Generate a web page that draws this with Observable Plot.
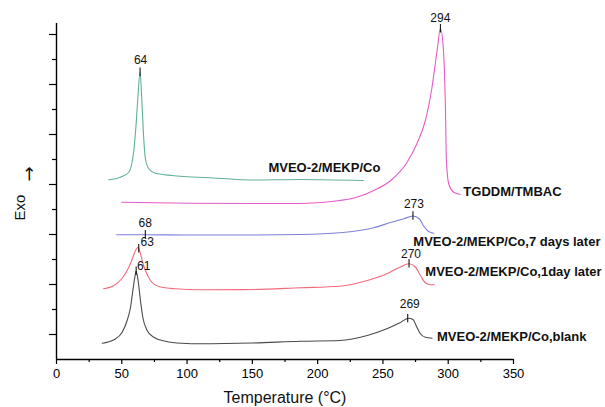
<!DOCTYPE html>
<html>
<head>
<meta charset="utf-8">
<script src="https://cdn.jsdelivr.net/npm/d3@7"></script>
<script src="https://cdn.jsdelivr.net/npm/@observablehq/plot@0.6"></script>
<style>
  html, body { margin: 0; padding: 0; background: #fff; }
  svg { display: block; }
</style>
</head>
<body>
<div id="chart"></div>
<script>
// ---- Data ----
const seriesNames = [
  "MVEO-2/MEKP/Co",
  "TGDDM/TMBAC",
  "MVEO-2/MEKP/Co,7 days later",
  "MVEO-2/MEKP/Co,1day later",
  "MVEO-2/MEKP/Co,blank"
];

const tGreen = [40, 49, 55.4, 59.2, 61, 62.5, 64, 65.6, 66.9, 68.1, 70.7, 75.8, 88.6, 97.5, 120, 149, 187, 235];
const vGreen = [7.19, 7.29, 7.49, 8.36, 9.43, 10.63, 11.49, 10.09, 8.76, 8.03, 7.63, 7.45, 7.36, 7.32, 7.26, 7.18, 7.2, 7.16];

const tMagenta = [50, 100, 150, 187, 217, 230, 243, 256, 268.5, 276, 282.5, 287.6, 291.5, 294, 296, 297.9, 298.6, 300.4, 304.2, 309.3];
const vMagenta = [6.29, 6.25, 6.24, 6.24, 6.36, 6.49, 6.76, 7.16, 7.89, 8.63, 9.56, 10.89, 12.36, 13.23, 12.63, 9.96, 7.96, 7.03, 6.69, 6.6];

const tBlue = [46, 68, 100, 150, 187, 217, 243, 256, 266, 273, 278, 281, 285, 289];
const vBlue = [4.99, 4.99, 4.98, 4.98, 5.0, 5.07, 5.27, 5.48, 5.63, 5.74, 5.62, 5.35, 5.12, 5.05];

const tRed = [36, 44, 50, 55.4, 58.5, 60.5, 62.5, 63.6, 65.6, 68.1, 72, 78.4, 91, 110, 150, 187, 217, 238, 253, 263, 270, 275, 278.7, 282.5, 286.4, 289.4];
const vRed = [2.83, 2.96, 3.23, 3.69, 4.09, 4.36, 4.49, 4.36, 3.96, 3.56, 3.16, 2.92, 2.83, 2.79, 2.8, 2.87, 2.93, 3.16, 3.43, 3.69, 3.83, 3.69, 3.36, 3.07, 2.99, 2.99];

const tBlack = [35, 44, 50.3, 54.1, 56.7, 58.5, 60, 61, 62.5, 64.3, 66.1, 69.4, 74.5, 83.5, 96, 110, 150, 187, 217, 238, 253, 263, 269.5, 273, 276, 278.7, 282.5, 287.6];
const vBlack = [0.65, 0.79, 1.09, 1.56, 2.09, 2.76, 3.29, 3.53, 3.16, 2.36, 1.69, 1.16, 0.89, 0.73, 0.65, 0.63, 0.66, 0.73, 0.76, 0.96, 1.23, 1.47, 1.65, 1.6, 1.29, 1.03, 0.89, 0.85];

// peak temperatures marked on each curve (series index, temperature)
const peakSeries = [0, 1, 2, 2, 3, 3, 4, 4];
const peakTemps  = [64, 294, 68, 273, 63, 270, 61, 269];

// curve label anchors (temperature, signal)
const labelTemps = [162.3, 311.6, 273.3, 282.5, 291.4];
const labelVals  = [7.68, 6.69, 4.69, 3.52, 0.89];

const xTicks = [0, 50, 100, 150, 200, 250, 300, 350];
const xMinorTicks = [25, 75, 125, 175, 225, 275, 325];
const yMajorTicks = [1, 3, 5, 7, 9, 11, 13];
const yMinorTicks = [2, 4, 6, 8, 10, 12];

// ---- Build tables ----
const colors = ["#5fb09a", "#e65bc6", "#7d80d8", "#f26b7c", "#4a4a4a"];
const curveT = [tGreen, tMagenta, tBlue, tRed, tBlack];
const curveV = [vGreen, vMagenta, vBlue, vRed, vBlack];

const rows = seriesNames.flatMap((name, s) =>
  curveT[s].map((t, i) => ({name, t, v: curveV[s][i]})));

function valueAt(s, t) {
  const T = curveT[s], V = curveV[s];
  for (let i = 0; i < T.length - 1; i++) {
    if (t >= T[i] && t <= T[i + 1]) {
      const f = (t - T[i]) / (T[i + 1] - T[i]);
      return V[i] + f * (V[i + 1] - V[i]);
    }
  }
  return V[V.length - 1];
}

const peaks = peakTemps.map((t, i) => ({
  t, v: valueAt(peakSeries[i], t), label: String(t)
}));

const labels = seriesNames.map((name, i) => ({name, t: labelTemps[i], v: labelVals[i]}));

// label offsets in pixels (style)
const peakOffsets = [
  [0.5, -12], [0, -10.5], [0, -11.5], [1, -11.5],
  [8.4, -7], [2, -10], [7.6, -5], [2, -14.5]
];

const font = "'Liberation Sans', Arial, Helvetica, sans-serif";

const chart = Plot.plot({
  width: 605,
  height: 407,
  marginLeft: 56,
  marginRight: 92,
  marginTop: 23,
  marginBottom: 48,
  style: {fontFamily: font, background: "#fff", color: "#000", overflow: "visible"},
  x: {domain: [0, 350]},
  y: {domain: [0, 13.44]},
  color: {domain: seriesNames, range: colors},
  marks: [
    Plot.axisX({ticks: xTicks, tickSize: 5, tickPadding: 4, fontSize: 13, label: null, strokeWidth: 1.2}),
    Plot.axisX({ticks: xMinorTicks, tickSize: 3, tickFormat: () => "", label: null, strokeWidth: 1.2}),
    Plot.axisY({ticks: yMajorTicks, tickSize: 7, tickFormat: () => "", label: null, strokeWidth: 1.2}),
    Plot.axisY({ticks: yMinorTicks, tickSize: 4, tickFormat: () => "", label: null, strokeWidth: 1.2}),
    Plot.ruleY([0], {stroke: "#000", strokeWidth: 1.4}),
    Plot.ruleX([0], {stroke: "#000", strokeWidth: 1.4}),
    Plot.line(rows, {x: "t", y: "v", z: "name", stroke: "name", strokeWidth: 1.1, curve: "monotone-x"}),
    Plot.ruleX(peaks, {x: "t", y1: d => d.v - 0.17, y2: d => d.v + 0.17, stroke: "#000", strokeWidth: 1}),
    ...peaks.map((p, i) => Plot.text([p], {
      x: "t", y: "v", text: "label", fontSize: 12, fill: "#111",
      dx: peakOffsets[i][0], dy: peakOffsets[i][1]
    })),
    Plot.text(labels, {x: "t", y: "v", text: "name", textAnchor: "start", fontWeight: "bold", fontSize: 13, fill: "#111"}),
    Plot.text(["Exo"], {frameAnchor: "left", dx: -36, dy: 29, rotate: -90, fontSize: 15, fill: "#111"}),
    Plot.text(["\u2192"], {frameAnchor: "left", dx: -27, dy: -10, rotate: -90, fontSize: 18, fill: "#111", fontFamily: "DejaVu Sans"}),
    Plot.text(["Temperature (\u00B0C)"], {frameAnchor: "bottom", dy: 38, lineAnchor: "middle", fontSize: 16, fill: "#111"})
  ]
});

document.getElementById("chart").appendChild(chart);
</script>
</body>
</html>
